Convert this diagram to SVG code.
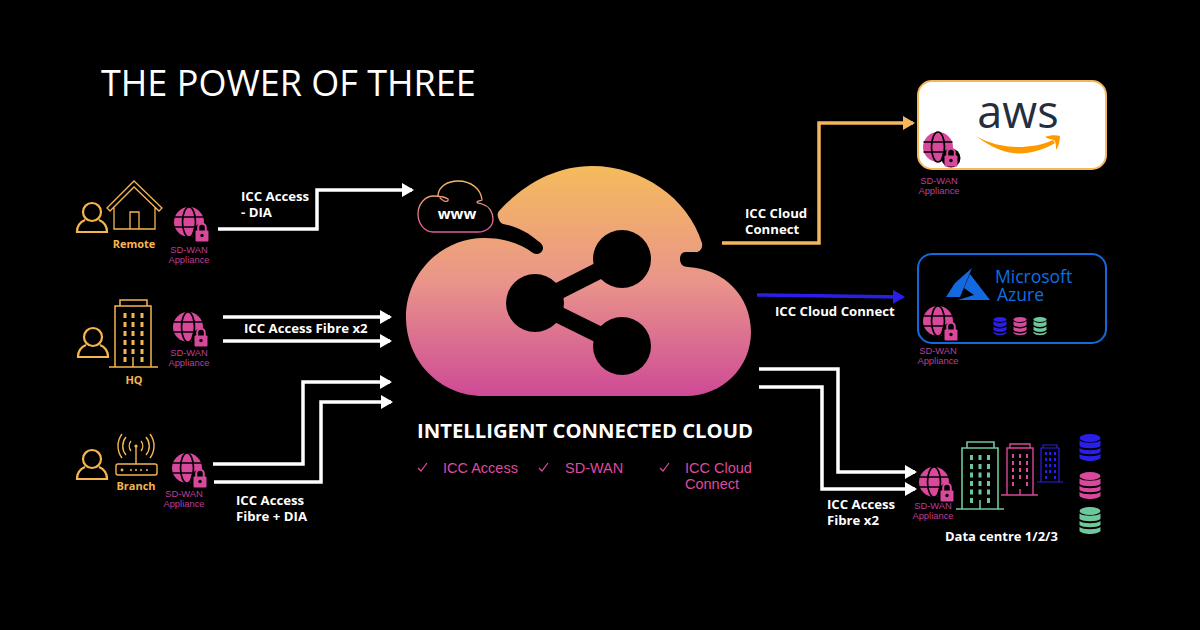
<svg xmlns="http://www.w3.org/2000/svg" width="1200" height="630" viewBox="0 0 1200 630">
<style>
text{font-family:"Open Sans","Noto Sans",sans-serif}
.title{font-size:36px;fill:#fff}
.lbl{font-size:13.200px;font-weight:700;fill:#fff}
.site{font-size:11px;font-weight:700;fill:#F5B64F;text-anchor:middle}
.sd{font-family:"Liberation Sans",sans-serif;font-size:9.400px;fill:#BE3F97;text-anchor:middle}
.chk{font-family:"Liberation Sans",sans-serif;font-size:14.500px;fill:#DF4AA0}
.tick{fill:none;stroke:#DF4AA0;stroke-width:1.200}
.w{fill:none;stroke:#fff;stroke-width:3.500}
.ln{fill:none;stroke:#F5B64F}
</style>
<defs>
<linearGradient id="cg" x1="0" y1="0" x2="0" y2="1"><stop offset="0" stop-color="#F5BB5C"/><stop offset=".5" stop-color="#E9958A"/><stop offset="1" stop-color="#CE4A96"/></linearGradient>
<linearGradient id="wg" x1="0" y1="0" x2="0" y2="1"><stop offset="0" stop-color="#F5BB5C"/><stop offset="1" stop-color="#DE5AA0"/></linearGradient>
<marker id="aw" markerUnits="userSpaceOnUse" markerWidth="13" markerHeight="14" refX="10" refY="7" orient="auto"><path d="M0,0L12,7L0,14z" fill="#fff"/></marker>
<marker id="ao" markerUnits="userSpaceOnUse" markerWidth="13" markerHeight="14" refX="10" refY="7" orient="auto"><path d="M0,0L12,7L0,14z" fill="#F5B75C"/></marker>
<marker id="ab" markerUnits="userSpaceOnUse" markerWidth="13" markerHeight="14" refX="10" refY="7" orient="auto"><path d="M0,0L12,7L0,14z" fill="#2A1FE8"/></marker>
<symbol id="globe" overflow="visible">
<circle r="15" fill="#D8489B"/>
<g fill="none" stroke="#000" stroke-width="1.700"><ellipse rx="6.500" ry="15"/><path d="M-14.500,-5H14.500M-14.500,5H14.500"/></g>
<circle cx="13" cy="11" r="9.500" fill="#000"/>
<g transform="translate(13,11)">
<path d="M-3.800,-2v-3.500a3.800,3.800 0 0 1 7.600,0v3.500" fill="none" stroke="#D8489B" stroke-width="2"/>
<rect x="-6.500" y="-2.500" width="13" height="11" rx="1" fill="#D8489B"/>
<circle cy="2.500" r="1.700" fill="#000"/>
</g>
</symbol>
<symbol id="person" overflow="visible">
<g fill="none" stroke="#F5B64F" stroke-width="2.200"><circle cy="-10" r="9"/><path d="M-7,-2C-12,0 -15,4 -15,10H15C15,4 12,0 7,-2"/></g>
</symbol>
<symbol id="cyl" overflow="visible">
<ellipse cy="-6.500" rx="6.500" ry="2.500"/><path d="M-6.500,-5C-4,-2.500 4,-2.500 6.500,-5V-1C4,1.500 -4,1.500 -6.500,-1zM-6.500,.5C-4,3 4,3 6.500,.5V4C4,6.500 -4,6.500 -6.500,4zM-6.500,5.500C-4,8 4,8 6.500,5.500V7C4,10 -4,10 -6.500,7z"/>
</symbol>
<symbol id="db" overflow="visible">
<ellipse cy="-10" rx="10.500" ry="4"/><path d="M-10.500,-7.500C-7,-4.500 7,-4.500 10.500,-7.500V-2C7,1 -7,1 -10.500,-2z"/><path d="M-10.500,0C-7,3 7,3 10.500,0V4C7,7 -7,7 -10.500,4z"/><path d="M-10.500,6C-7,9 7,9 10.500,6V10C7,14 -7,14 -10.500,10z"/>
</symbol>
</defs>
<rect width="1200" height="630" fill="#000"/>
<text class="title" x="101" y="96">THE POWER OF THREE</text>

<g id="connectors">
<path class="w" marker-end="url(#aw)" d="M218,229H317V190H412"/>
<path class="w" marker-end="url(#aw)" d="M223,317H390"/>
<path class="w" marker-end="url(#aw)" d="M223,341H390"/>
<path class="w" marker-end="url(#aw)" d="M213,464H303V382H390"/>
<path class="w" marker-end="url(#aw)" d="M214,482H321V402H391"/>
<path fill="none" stroke="#F5B75C" stroke-width="3.500" marker-end="url(#ao)" d="M722,243H819V123H913"/>
<path fill="none" stroke="#2A1FE8" stroke-width="3.500" marker-end="url(#ab)" d="M757,295L903,297"/>
<path class="w" marker-end="url(#aw)" d="M759,369H838V472H915"/>
<path class="w" marker-end="url(#aw)" d="M759,387H822V489H915"/>
</g>

<g id="labels">
<text class="lbl" x="241" y="201">ICC Access<tspan x="241" y="217">- DIA</tspan></text>
<text class="lbl" x="244" y="333">ICC Access Fibre x2</text>
<text class="lbl" x="236" y="505">ICC Access<tspan x="236" y="521">Fibre + DIA</tspan></text>
<text class="lbl" x="745" y="218">ICC Cloud<tspan x="745" y="234">Connect</tspan></text>
<text class="lbl" x="775" y="316">ICC Cloud Connect</text>
<text class="lbl" x="827" y="509">ICC Access<tspan x="827" y="525">Fibre x2</tspan></text>
</g>

<g id="node-remote">
<use href="#person" x="92" y="222"/>
<path class="ln" stroke-width="1.300" d="M114,207V229H155V207M107,208L134,181L162,208L159,211L134,187L110,211zM130,229V212H139V229"/>
<text class="site" x="134" y="248">Remote</text>
<use href="#globe" x="189" y="222"/>
<text class="sd" x="189" y="253">SD-WAN<tspan x="189" y="263">Appliance</tspan></text>
</g>

<g id="node-hq">
<use href="#person" x="93" y="347"/>
<path class="ln" stroke-width="1.500" d="M109,367H158M115,367V306H151V367M120,306V300H147V306M133,367V357"/>
<path fill="#F5B64F" d="M123.500,313h3v5h-3zM131.500,313h3v5h-3zM140.500,313h3v5h-3zM123.500,322h3v5h-3zM131.500,322h3v5h-3zM140.500,322h3v5h-3zM123.500,331h3v5h-3zM131.500,331h3v5h-3zM140.500,331h3v5h-3zM123.500,340h3v5h-3zM131.500,340h3v5h-3zM140.500,340h3v5h-3zM123.500,349h3v5h-3zM131.500,349h3v5h-3zM140.500,349h3v5h-3zM123.500,357h3v5h-3zM140.500,357h3v5h-3z"/>
<text class="site" x="134" y="384">HQ</text>
<use href="#globe" x="188" y="327"/>
<text class="sd" x="189" y="356">SD-WAN<tspan x="189" y="366">Appliance</tspan></text>
</g>

<g id="node-branch">
<use href="#person" x="92" y="469"/>
<g class="ln" stroke-width="1.400"><rect x="116" y="464" width="41" height="11" rx="2"/><path d="M136,446V464"/><path d="M131,451a8,8 0 0 1 0,-10M141,441a8,8 0 0 1 0,10M126,455a14,14 0 0 1 0,-18M146,437a14,14 0 0 1 0,18M122,458a20,20 0 0 1 0,-24M150,434a20,20 0 0 1 0,24"/></g>
<circle cx="136" cy="446" r="1.600" fill="#F5B64F"/>
<g fill="#F5B64F"><circle cx="122" cy="470" r="1.400"/><circle cx="131" cy="470" r="1"/><circle cx="136" cy="470" r="1"/><circle cx="141" cy="470" r="1"/><circle cx="147" cy="470" r="1"/></g>
<text class="site" x="136" y="490">Branch</text>
<use href="#globe" x="187" y="468"/>
<text class="sd" x="184" y="497">SD-WAN<tspan x="184" y="507">Appliance</tspan></text>
</g>

<g id="node-www">
<path d="M438,195C439,186 448,181 458,181C471,181 481,189 482,200C482,201 478,200 477,202C477,204 480,203 482,204C489,206 493,212 493,219C493,227 486,232 478,232H433C424,232 418,223 418,214C418,204 425,196 434,196C439,196 445,197 448,199C449,201 446,202 444,201C442,200 440,199 438,195z" fill="none" stroke="url(#wg)" stroke-width="1.300"/>
<text x="457" y="219" text-anchor="middle" font-size="15" font-weight="700" fill="#fff">www</text>
</g>

<g id="node-cloud">
<path fill="url(#cg)" d="M498,217C497,214 498,212 500,210C524,184 556,166 592,166C642,166 688,198 702,243C703,248 700,252 696,252H686C682,252 680,255 680,259C680,264 683,267 688,267C725,269 751,297 751,332C751,368 722,396 686,396H483C440,396 406,361 406,317C406,274 441,238 484,238C503,238 521,243 533,253C538,256 543,252 543,248C543,245 541,243 538,241C529,233 516,226 503,224C500,223 499,220 498,217z"/>
<g fill="#000"><circle cx="535" cy="303" r="29"/><circle cx="622" cy="259" r="29"/><circle cx="622" cy="346" r="29"/></g>
<path d="M535,303L622,259M535,303L622,346" stroke="#000" stroke-width="17" fill="none"/>
<text x="417" y="438" font-size="20.300" font-weight="700" fill="#fff">INTELLIGENT CONNECTED CLOUD</text>
<path class="tick" d="M418,468l3,3l6,-8M539,468l3,3l6,-8M660,468l3,3l6,-8"/>
<text class="chk" x="443" y="473">ICC Access</text>
<text class="chk" x="565" y="473">SD-WAN</text>
<text class="chk" x="685" y="473">ICC Cloud<tspan x="685" y="489">Connect</tspan></text>
</g>

<g id="node-aws">
<rect x="918" y="81" width="188" height="88" rx="14" fill="#fff" stroke="#F5B75C" stroke-width="2"/>
<text x="1018" y="128" text-anchor="middle" font-size="45" font-weight="500" fill="#232F3E">aws</text>
<path d="M976,136C992,148 1005,153 1018,153.500C1032,153.500 1045,149 1055,143L1053,140C1042,145 1030,147 1018,147C1003,147 988,143 976,136z" fill="#F90"/>
<path d="M1045,137C1050,135 1056,135 1060,136C1060,140 1059,146 1056,150C1056,146 1056,142 1054,140C1052,139 1048,139 1045,137z" fill="#F90"/>
<use href="#globe" x="938" y="147"/>
<text class="sd" x="939" y="184">SD-WAN<tspan x="939" y="194">Appliance</tspan></text>
</g>

<g id="node-azure">
<rect x="918" y="254" width="188" height="89" rx="14" fill="#000" stroke="#1469E0" stroke-width="2"/>
<path d="M972,268L955,283L946,297H960z" fill="#1469E0"/>
<path d="M970,274L964,288L974,295L958,300H990z" fill="#1469E0"/>
<text x="995" y="283" font-size="17.500" fill="#0F6FE0">Microsoft<tspan x="997" y="301">Azure</tspan></text>
<use href="#cyl" x="1000" y="326" fill="#2A1FE8"/><use href="#cyl" x="1020" y="326" fill="#D8489B"/><use href="#cyl" x="1040" y="326" fill="#6FC79C"/>
<use href="#globe" x="938" y="321"/>
<text class="sd" x="938" y="354">SD-WAN<tspan x="938" y="364">Appliance</tspan></text>
</g>

<g id="node-dc">
<use href="#globe" x="934" y="482"/>
<text class="sd" x="933" y="509">SD-WAN<tspan x="933" y="519">Appliance</tspan></text>
<path fill="none" stroke="#6FC79C" stroke-width="1.600" d="M956,509H1004M962,509V448H998V509M967,448V442H994V448M980,509V500"/>
<path fill="#6FC79C" d="M970,455h3v5h-3zM978.500,455h3v5h-3zM987,455h3v5h-3zM970,464h3v5h-3zM978.500,464h3v5h-3zM987,464h3v5h-3zM970,472.500h3v5h-3zM978.500,472.500h3v5h-3zM987,472.500h3v5h-3zM970,481h3v5h-3zM978.500,481h3v5h-3zM987,481h3v5h-3zM970,489.500h3v5h-3zM978.500,489.500h3v5h-3zM987,489.500h3v5h-3zM970,498h3v5h-3zM987,498h3v5h-3z"/>
<path fill="none" stroke="#D8489B" stroke-width="1.400" d="M1001,495H1038M1007,495V448H1033V495M1010,448V444H1030V448M1020,495V489"/>
<path fill="#D8489B" d="M1012,454h2v4h-2zM1019,454h2v4h-2zM1026,454h2v4h-2zM1012,461h2v4h-2zM1019,461h2v4h-2zM1026,461h2v4h-2zM1012,468h2v4h-2zM1019,468h2v4h-2zM1026,468h2v4h-2zM1012,475h2v4h-2zM1019,475h2v4h-2zM1026,475h2v4h-2zM1012,482h2v4h-2zM1026,482h2v4h-2z"/>
<path fill="none" stroke="#2A1FE8" stroke-width="1.200" d="M1037,482H1063M1041,482V448H1059V482M1043,448V445H1057V448"/>
<path fill="#2A1FE8" d="M1045,452h2v3h-2zM1049,452h2v3h-2zM1054,452h2v3h-2zM1045,458h2v3h-2zM1049,458h2v3h-2zM1054,458h2v3h-2zM1045,464h2v3h-2zM1049,464h2v3h-2zM1054,464h2v3h-2zM1045,470h2v3h-2zM1049,470h2v3h-2zM1054,470h2v3h-2zM1045,476h2v3h-2zM1054,476h2v3h-2z"/>
<use href="#db" x="1090" y="448" fill="#2A1FE8"/><use href="#db" x="1090" y="486" fill="#D8489B"/><use href="#db" x="1090" y="521" fill="#6FC79C"/>
<text x="945" y="541" font-size="13" font-weight="700" fill="#fff">Data centre 1/2/3</text>
</g>
</svg>
